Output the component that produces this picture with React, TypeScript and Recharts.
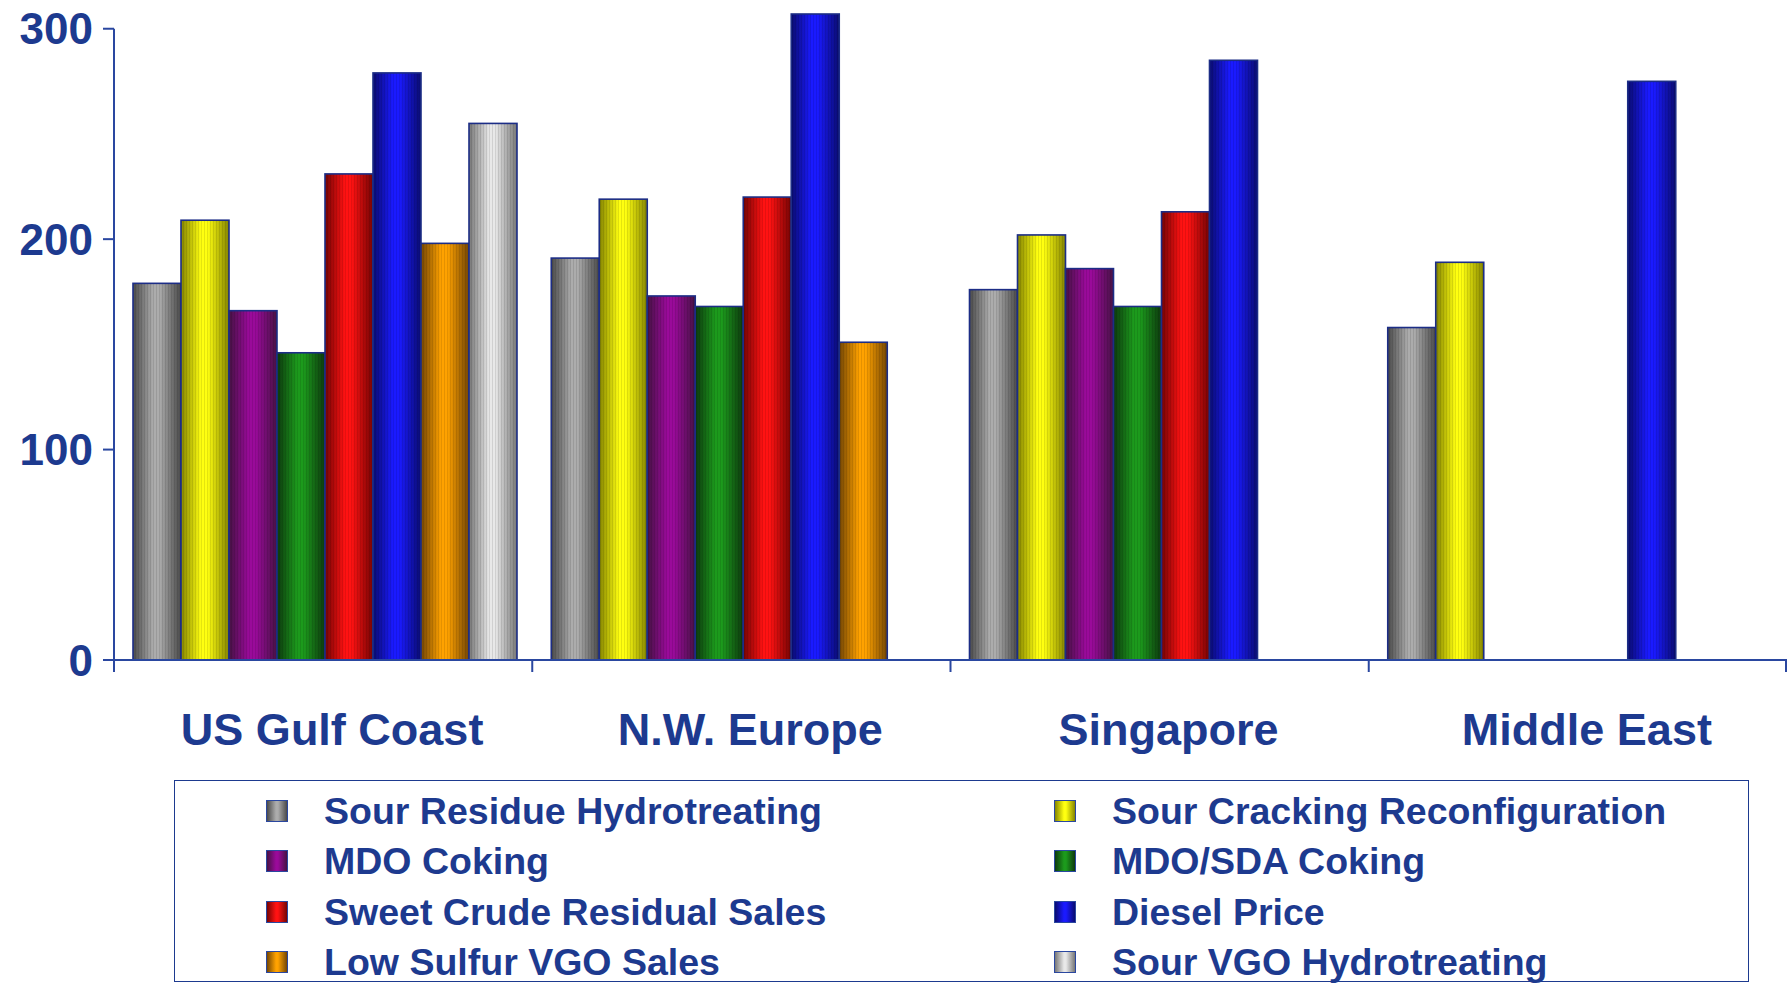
import { BarChart, Bar, XAxis, YAxis, Legend, ReferenceLine } from 'recharts';

// Regions along the x axis
const REGIONS = ['US Gulf Coast', 'N.W. Europe', 'Singapore', 'Middle East'];

// Values per case, one entry per region (null = no bar)
const SOUR_RESIDUE_HDT = [179, 191, 176, 158];
const SOUR_CRACKING_RECONFIG = [209, 219, 202, 189];
const MDO_COKING = [166, 173, 186, null];
const MDO_SDA_COKING = [146, 168, 168, null];
const SWEET_CRUDE_RESIDUAL = [231, 220, 213, null];
const DIESEL_PRICE = [279, 307, 285, 275];
const LOW_SULFUR_VGO = [198, 151, null, null];
const SOUR_VGO_HDT = [255, null, null, null];

const Y_TICKS = [0, 100, 200, 300];

const TEXT_BLUE = '#1d3a8f';
const AXIS_BLUE = '#2a47a0';
const BAR_EDGE = '#1c2d86';
const FONT = "'Liberation Sans', Arial, sans-serif";

// Series table: dark edge / light centre for the cylinder shading
const SERIES = [
  { key: 'srh', name: 'Sour Residue Hydrotreating', values: SOUR_RESIDUE_HDT, dark: '#4a4a4a', light: '#acacac' },
  { key: 'scr', name: 'Sour Cracking Reconfiguration', values: SOUR_CRACKING_RECONFIG, dark: '#858500', light: '#ffff10' },
  { key: 'mdo', name: 'MDO Coking', values: MDO_COKING, dark: '#461244', light: '#9a0a9a' },
  { key: 'sda', name: 'MDO/SDA Coking', values: MDO_SDA_COKING, dark: '#0d390e', light: '#1c9a1c' },
  { key: 'scs', name: 'Sweet Crude Residual Sales', values: SWEET_CRUDE_RESIDUAL, dark: '#750404', light: '#ff1212' },
  { key: 'dsl', name: 'Diesel Price', values: DIESEL_PRICE, dark: '#0a0c70', light: '#1a1aff' },
  { key: 'lsv', name: 'Low Sulfur VGO Sales', values: LOW_SULFUR_VGO, dark: '#744604', light: '#ffa200' },
  { key: 'svh', name: 'Sour VGO Hydrotreating', values: SOUR_VGO_HDT, dark: '#777777', light: '#e8e8e8' },
];

const chartData = REGIONS.map((region, i) => {
  const row: Record<string, string | number | null> = { region };
  SERIES.forEach(s => {
    row[s.key] = s.values[i];
  });
  return row;
});

// Bar with horizontal "cylinder" gradient, fine stripes and a navy outline
function CylinderBar(props: any) {
  const { x, y, width, height, gradId, payload, dataKey } = props;
  if (payload?.[dataKey] == null || !height || height <= 0) return null;
  return (
    <g>
      <rect x={x} y={y} width={width} height={height} fill={`url(#${gradId})`} />
      <rect x={x} y={y} width={width} height={height} fill="url(#bar-stripes)" />
      <rect x={x} y={y} width={width} height={height} fill="none" stroke={BAR_EDGE} strokeWidth={1.6} />
    </g>
  );
}

// Category label centred in the band, with a tick at the band boundaries
function RegionTick({ x, y, payload, index }: any) {
  const half = payload?.offset ?? 209;
  return (
    <g>
      <line x1={x - half} y1={y} x2={x - half} y2={y + 12} stroke={AXIS_BLUE} strokeWidth={2} />
      {index === REGIONS.length - 1 && (
        <line x1={x + half - 1} y1={y} x2={x + half - 1} y2={y + 12} stroke={AXIS_BLUE} strokeWidth={2} />
      )}
      <text
        x={x + 9}
        y={y + 85}
        textAnchor="middle"
        fill={TEXT_BLUE}
        fontSize={45}
        fontWeight={700}
        fontFamily={FONT}
      >
        {payload.value}
      </text>
    </g>
  );
}

function swatchCss(s: (typeof SERIES)[number]) {
  return `linear-gradient(to right, ${s.dark} 0%, ${s.light} 45%, ${s.light} 55%, ${s.dark} 100%)`;
}

function BoxLegend() {
  return (
    <div
      style={{
        position: 'relative',
        width: 1575,
        height: 202,
        boxSizing: 'border-box',
        border: `1.5px solid ${TEXT_BLUE}`,
        fontFamily: FONT,
        fontWeight: 700,
        fontSize: 37.5,
        color: TEXT_BLUE,
      }}
    >
      {SERIES.map((s, i) => {
        const row = Math.floor(i / 2);
        const col = i % 2;
        const top = 30 + row * 50.3;
        const left = col === 0 ? 91 : 879;
        return (
          <div key={s.key} style={{ position: 'absolute', left, top: top - 25, height: 50, display: 'flex', alignItems: 'center' }}>
            <span
              style={{
                display: 'inline-block',
                width: 22,
                height: 22,
                boxSizing: 'border-box',
                border: `1.5px solid ${AXIS_BLUE}`,
                background: swatchCss(s),
              }}
            />
            <span style={{ marginLeft: 36, whiteSpace: 'nowrap', lineHeight: '50px' }}>{s.name}</span>
          </div>
        );
      })}
    </div>
  );
}

export default function App() {
  return (
    <div style={{ position: 'absolute', left: 0, top: 0, width: 1787, height: 987, background: '#fff' }}>
      <BarChart
        width={1787}
        height={987}
        data={chartData}
        margin={{ top: 14, right: 0, bottom: 227, left: 0 }}
        barCategoryGap={19}
        barGap={0}
      >
        <defs>
          {SERIES.map(s => (
            <linearGradient key={s.key} id={`grad-${s.key}`} x1="0" y1="0" x2="1" y2="0">
              <stop offset="0%" stopColor={s.dark} />
              <stop offset="42%" stopColor={s.light} />
              <stop offset="55%" stopColor={s.light} />
              <stop offset="100%" stopColor={s.dark} />
            </linearGradient>
          ))}
          <pattern id="bar-stripes" width={3} height={10} patternUnits="userSpaceOnUse">
            <rect x={0} y={0} width={1} height={10} fill="rgba(0,0,0,0.10)" />
          </pattern>
        </defs>
        <XAxis
          dataKey="region"
          height={100}
          axisLine={{ stroke: AXIS_BLUE, strokeWidth: 2 }}
          tickLine={false}
          tickSize={0}
          tickMargin={0}
          interval={0}
          tick={<RegionTick />}
        />
        <YAxis
          width={114}
          domain={[0, 'dataMax']}
          ticks={Y_TICKS}
          axisLine={false}
          tickLine={{ stroke: AXIS_BLUE, strokeWidth: 2 }}
          tickSize={11}
          tickMargin={10}
          tick={{ fill: TEXT_BLUE, fontSize: 44, fontWeight: 700, fontFamily: FONT }}
        />
        <ReferenceLine
          segment={[
            { x: REGIONS[0], y: 0 },
            { x: REGIONS[0], y: 300 },
          ]}
          position="start"
          ifOverflow="visible"
          stroke={AXIS_BLUE}
          strokeWidth={2}
        />
        <Legend
          layout="horizontal"
          verticalAlign="middle"
          align="center"
          content={<BoxLegend />}
          wrapperStyle={{ left: 174, top: 780, width: 1575, height: 202 }}
        />
        {SERIES.map(s => (
          <Bar
            key={s.key}
            dataKey={s.key}
            name={s.name}
            fill={s.light}
            isAnimationActive={false}
            shape={(p: any) => <CylinderBar {...p} dataKey={s.key} gradId={`grad-${s.key}`} />}
          />
        ))}
      </BarChart>
    </div>
  );
}
